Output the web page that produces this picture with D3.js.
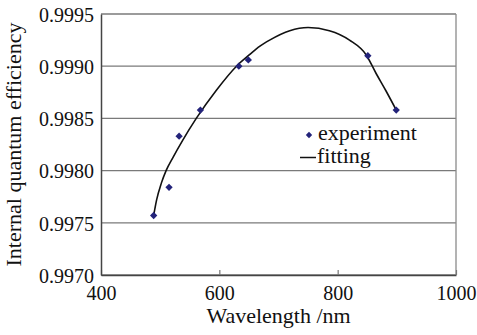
<!DOCTYPE html>
<html>
<head>
<meta charset="utf-8">
<script src="https://cdn.jsdelivr.net/npm/d3@7"></script>
<style>
  body { margin: 0; background: #fff; }
  svg text { font-family: 'Liberation Serif', 'DejaVu Serif', serif; fill: #111; }
</style>
</head>
<body>
<div id="chart"></div>
<script>
// experiment points
const expWavelength = [489, 515, 532, 568, 633, 649, 851, 899];
const expEfficiency = [0.99757, 0.99784, 0.99833, 0.99858, 0.99900, 0.99906, 0.99910, 0.99858];

// fitting curve
const fitWavelength = [489, 494, 502, 510, 522, 538, 561, 595, 629, 651, 668, 685, 719, 750, 786, 820, 848, 865, 882, 899];
const fitEfficiency = [0.99757, 0.99772, 0.99788, 0.99800, 0.99813, 0.99829, 0.99850, 0.99877, 0.99900, 0.99911, 0.99919, 0.99925, 0.99934, 0.99937, 0.99934, 0.99925, 0.99911, 0.99893, 0.99876, 0.99858];

const xTicks = [400, 600, 800, 1000];
const yTicks = [0.9970, 0.9975, 0.9980, 0.9985, 0.9990, 0.9995];

const serif = "'Liberation Serif', 'DejaVu Serif', serif";

const margin = {top: 14, right: 21, bottom: 60, left: 101};
const width = 477 - margin.left - margin.right;
const height = 335 - margin.top - margin.bottom;

const svg = d3.select("#chart").append("svg")
    .attr("width", 477)
    .attr("height", 335)
  .append("g")
    .attr("transform", "translate(" + margin.left + "," + margin.top + ")");

let x = d3.scaleLinear().domain([400, 1000]).range([0, width]);
let y = d3.scaleLinear().domain([0.9970, 0.9995]).range([height, 0]);

// gridlines
svg.selectAll("line.grid").data(yTicks)
  .enter().append("line")
    .attr("class", "grid")
    .attr("x1", 0).attr("x2", width)
    .attr("y1", d => y(d)).attr("y2", d => y(d))
    .style("stroke", "#7a7a7a")
    .style("stroke-width", 1.3);

// right frame
svg.append("line")
  .attr("x1", width).attr("x2", width)
  .attr("y1", 0).attr("y2", height)
  .style("stroke", "#8a8a8a")
  .style("stroke-width", 1.3);

// x axis, ticks pointing inside
const xAxis = svg.append("g")
  .attr("transform", "translate(0," + height + ")")
  .call(d3.axisBottom(x).tickValues(xTicks).tickSize(-5).tickSizeOuter(0).tickPadding(11).tickFormat(d3.format("d")));

// y axis
const yAxis = svg.append("g")
  .call(d3.axisLeft(y).tickValues(yTicks).tickSize(0).tickPadding(7).tickFormat(d3.format(".4f")));

[xAxis, yAxis].forEach(a => {
  a.attr("font-family", serif).attr("font-size", 20);
  a.select(".domain").style("stroke", "#444").style("stroke-width", 1.5);
  a.selectAll(".tick line").style("stroke", "#777").style("stroke-width", 1.2);
  a.selectAll(".tick text").style("fill", "#111");
});
yAxis.selectAll(".tick text").attr("dy", "0.36em");

// fitting curve
const fitData = fitWavelength.map((w, i) => [w, fitEfficiency[i]]);
svg.append("path")
  .datum(fitData)
  .attr("d", d3.line().x(d => x(d[0])).y(d => y(d[1])).curve(d3.curveMonotoneX))
  .style("fill", "none")
  .style("stroke", "#111")
  .style("stroke-width", 1.6);

// experiment markers
const diamond = d3.symbol().type(d3.symbolDiamond2).size(34);
svg.selectAll("path.pt").data(expWavelength)
  .enter().append("path")
    .attr("class", "pt")
    .attr("d", diamond)
    .attr("transform", (d, i) => "translate(" + x(d) + "," + y(expEfficiency[i]) + ")")
    .style("fill", "#23237a");

// axis titles
svg.append("text")
  .attr("x", width / 2)
  .attr("y", height + 48)
  .attr("text-anchor", "middle")
  .style("font-size", "22px")
  .text("Wavelength /nm");

svg.append("text")
  .attr("transform", "rotate(-90)")
  .attr("x", -height / 2)
  .attr("y", -80)
  .attr("text-anchor", "middle")
  .style("font-size", "22px")
  .text("Internal quantum efficiency");

// legend
const legend = svg.append("g").attr("transform", "translate(" + (300 - margin.left) + "," + (140 - margin.top) + ")");
legend.append("path")
  .attr("d", d3.symbol().type(d3.symbolDiamond2).size(26))
  .attr("transform", "translate(9,-5)")
  .style("fill", "#23237a");
legend.append("text")
  .attr("x", 18).attr("y", 0)
  .style("font-size", "22px")
  .text("experiment");
legend.append("line")
  .attr("x1", 0).attr("x2", 16)
  .attr("y1", 17.5).attr("y2", 17.5)
  .style("stroke", "#111")
  .style("stroke-width", 1.5);
legend.append("text")
  .attr("x", 17).attr("y", 23)
  .style("font-size", "22px")
  .text("fitting");
</script>
</body>
</html>
